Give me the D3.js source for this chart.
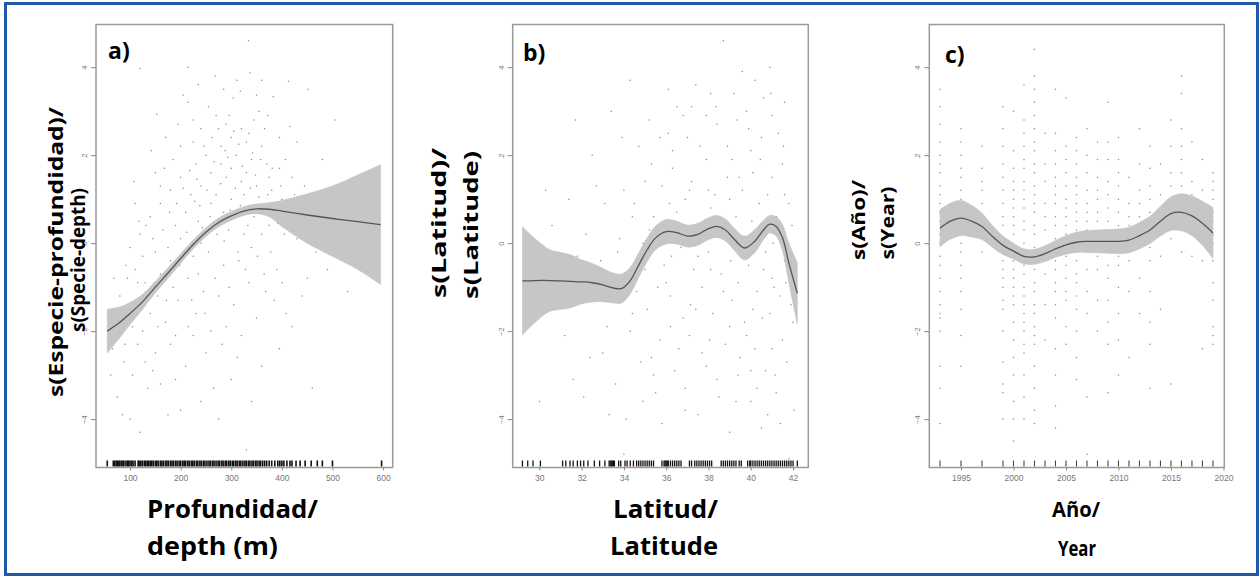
<!DOCTYPE html>
<html><head><meta charset="utf-8">
<script src="https://cdn.jsdelivr.net/npm/d3@7"></script>
<style>
body{margin:0;background:#fff;}
svg{display:block;}
.tick text{font-family:"Liberation Sans",Arial,sans-serif;fill:#777;}
.tick line{stroke:#888;}
</style></head>
<body><svg id="c" width="1260" height="577"></svg>
<script>
// ---------- Panel a: depth ----------
const depthA = [55,80,100,125,150,175,200,225,250,275,300,325,350,375,400,450,500,550,595];
const fitA   = [-2.0,-1.8,-1.6,-1.33,-1.0,-0.68,-0.35,-0.03,0.25,0.47,0.62,0.73,0.78,0.77,0.73,0.64,0.56,0.49,0.42];
const lowA   = [-2.5,-2.15,-1.85,-1.5,-1.13,-0.8,-0.46,-0.13,0.15,0.37,0.52,0.63,0.67,0.6,0.38,0.0,-0.3,-0.6,-0.94];
const upA    = [-1.5,-1.45,-1.35,-1.16,-0.87,-0.56,-0.24,0.07,0.35,0.57,0.72,0.83,0.89,0.92,0.97,1.12,1.3,1.55,1.78];
const ticksA = [100,200,300,400,500,600];
const rugA = [55,67,70,73,75,78,80,83,86,88,92,95,97,100,103,106,110,116,118,121,124,128,131,134,137,140,143,146,150,153,156,160,163,166,170,173,176,180,183,186,190,193,197,200,204,207,210,214,217,221,224,227,231,234,238,241,245,248,252,256,259,263,266,270,274,277,281,284,288,291,295,298,302,305,309,312,316,319,323,327,330,334,337,341,344,348,351,355,358,362,366,370,375,380,386,392,396,400,404,410,416,420,428,436,446,458,470,480,500,597];
const ptsA = [[334,4.6],[215,4.0],[120,3.97],[337,3.87],[311,3.7],[360,3.7],[413,3.68],[452,3.5],[205,3.37],[350,3.37],[383,3.33],[304,3.3],[153,2.93],[505,2.8],[416,2.65],[270,2.9],[290,2.7],[320,2.6],[345,2.8],[300,2.4],[330,2.3],[360,2.2],[280,2.2],[250,2.0],[310,2.0],[340,1.9],[370,1.8],[395,1.7],[420,1.5],[230,1.8],[260,1.6],[290,1.5],[320,1.4],[350,1.3],[380,1.2],[200,1.5],[180,1.2],[220,1.1],[240,1.3],[270,1.1],[300,1.0],[330,1.6],[355,1.05],[400,1.0],[440,0.9],[470,0.6],[160,0.9],[140,0.6],[190,0.4],[210,0.7],[235,0.5],[265,0.4],[295,0.3],[325,0.2],[345,0.6],[375,0.4],[405,0.2],[430,0.1],[120,0.2],[100,-0.1],[150,-0.2],[175,-0.1],[200,0.1],[225,-0.3],[255,-0.2],[285,-0.5],[315,-0.4],[340,-0.1],[365,-0.7],[390,-0.6],[110,-0.6],[130,-0.9],[160,-0.7],[185,-1.0],[215,-0.8],[245,-1.1],[275,-1.2],[305,-1.4],[335,-0.9],[80,-1.2],[95,-1.5],[115,-1.4],[140,-1.6],[170,-1.8],[195,-1.3],[230,-1.6],[260,-2.0],[290,-1.9],[320,-2.1],[350,-1.7],[70,-1.9],[90,-2.3],[125,-2.0],[150,-2.5],[180,-2.3],[210,-2.8],[250,-2.5],[300,-3.1],[360,-2.8],[420,-1.9],[460,-3.3],[105,-3.0],[135,-3.3],[200,-3.8],[85,-3.9],[120,-4.3],[160,-3.2],[240,-3.6],[275,-4.0],[75,-3.5],[100,-4.0],[330,-4.7],[130,-2.7],[180,-0.4],[260,0.9],[310,0.6],[280,1.8],[200,2.2],[150,1.6],[110,0.9],[170,2.4],[240,2.6],[360,0.2],[385,-1.3],[450,-0.8],[520,-0.3],[395,2.4],[355,3.0],[255,3.1],[285,3.5],[225,2.8],[300,1.7],[325,1.1],[375,1.5],[410,0.7],[285,0.7],[240,0.0],[215,-1.9],[190,-2.1],[155,-1.2],[125,-0.3],[95,-0.8],
 [262,2.4],[275,2.6],[288,2.1],[296,2.9],[305,2.55],[315,2.25],[322,1.75],[335,2.5],[342,2.05],[348,1.55],[358,1.9],[366,2.6],[372,1.1],[381,1.7],[388,0.8],[398,1.3],[407,1.9],[415,0.4],[425,1.1],[435,0.5],[445,1.3],[456,0.3],[468,-0.2],[480,0.8],[490,-0.6],[512,0.2],[530,-1.1],[548,-0.4],[225,2.3],[232,1.45],[238,0.85],[246,2.2],[252,1.2],[258,0.6],[266,1.85],[272,0.2],[279,1.35],[286,0.05],[293,1.95],[298,0.75],[308,1.25],[313,-0.2],[318,0.85],[328,-0.6],[333,0.4],[338,1.25],[352,-0.3],[362,0.85],[368,-1.1],[378,-0.2],[392,0.45],[400,-0.9],[408,-1.6],[185,1.9],[192,0.9],[198,-0.5],[205,1.25],[212,0.25],[218,1.65],[222,-1.3],[228,0.95],[235,-0.7],[243,0.35],[248,-1.6],[268,-0.8],[282,-2.3],[296,-1.0],[312,-2.6],[160,1.3],[165,0.3],[172,-1.3],[178,0.7],[145,0.1],[148,-0.9],[155,-1.9],[132,0.4],[137,-1.1],[115,-0.9],[118,0.5],[105,-1.9],[92,-0.5],[88,-2.7],[78,-1.6],[65,-2.4],[68,-0.8],[108,1.4],[142,2.1],[168,1.7],[195,2.7],[215,3.2],[235,3.6],[268,3.8],[318,3.45],[372,2.9],[430,2.3],[480,1.9],[190,-3.1],[225,-2.1],[265,-3.3],[340,-3.6],[395,-2.4],[440,-1.2],[145,-2.9],[115,-2.3],[175,-3.9],[62,-3.0]];

// ---------- Panel b: latitude ----------
const latB = [29.2,29.8,30.5,31.0,31.5,32.0,32.5,33.0,33.5,33.9,34.3,34.7,35.1,35.5,36.0,36.5,37.0,37.5,38.0,38.4,38.8,39.2,39.7,40.2,40.6,40.9,41.2,41.5,41.8,42.2];
const fitB = [-0.86,-0.85,-0.85,-0.86,-0.87,-0.88,-0.9,-0.95,-1.02,-1.03,-0.85,-0.5,-0.15,0.12,0.26,0.24,0.16,0.2,0.33,0.38,0.3,0.1,-0.11,0.05,0.3,0.43,0.38,0.12,-0.45,-1.14];
const lowB = [-2.09,-1.8,-1.55,-1.51,-1.47,-1.38,-1.34,-1.33,-1.36,-1.36,-1.15,-0.78,-0.42,-0.15,-0.02,-0.02,-0.09,-0.05,0.08,0.13,0.05,-0.15,-0.38,-0.21,0.08,0.23,0.16,-0.18,-0.9,-1.84];
const upB  = [0.37,0.1,-0.15,-0.21,-0.27,-0.38,-0.46,-0.57,-0.68,-0.7,-0.55,-0.22,0.12,0.39,0.54,0.5,0.41,0.45,0.58,0.63,0.55,0.35,0.16,0.31,0.52,0.63,0.6,0.42,0.0,-0.44];
const ticksB = [30,32,34,36,38,40,42];
const rugB = [29.2,29.45,29.7,30.05,31.1,31.25,31.45,31.6,31.8,31.95,32.1,32.3,32.6,32.85,33.1,33.3,33.35,33.4,33.45,33.5,33.55,33.75,33.85,34.05,34.15,34.3,34.45,34.6,34.7,34.8,34.9,35.0,35.1,35.2,35.3,35.4,35.8,35.9,35.95,36.0,36.05,36.1,36.2,36.3,36.4,36.5,36.6,36.7,37.1,37.2,37.35,37.45,37.55,37.65,37.75,37.85,37.95,38.05,38.15,38.6,38.7,38.8,38.9,39.0,39.1,39.2,39.3,39.45,39.55,39.85,39.95,40.0,40.1,40.2,40.3,40.4,40.5,40.6,40.7,40.8,40.9,41.0,41.1,41.2,41.3,41.4,41.5,41.6,41.7,41.8,41.9,42.0,42.2];
const ptsB = [[38.7,4.6],[40.9,4.0],[39.6,3.9],[37.4,3.6],[34.3,3.7],[36.1,3.5],[38.1,3.4],[40.6,3.3],[31.7,2.8],[33.4,3.0],[35.2,2.8],[36.8,2.9],[38.4,2.7],[39.9,2.6],[41.3,2.5],[40.5,2.4],[37.6,2.2],[36.3,2.1],[34.7,2.2],[32.5,2.0],[39.1,1.9],[41.5,1.8],[40.1,1.6],[38.9,1.5],[37.2,1.4],[35.8,1.3],[34.0,1.2],[33.1,0.9],[31.4,1.0],[36.9,1.0],[38.3,1.1],[39.6,1.2],[40.8,1.1],[41.8,0.9],[35.4,0.6],[36.5,0.7],[37.8,0.5],[39.3,0.6],[40.4,0.9],[41.2,0.6],[30.6,0.4],[32.2,0.2],[33.8,0.1],[34.9,0.0],[36.7,-0.1],[38.0,-0.2],[39.5,-0.3],[40.7,-0.2],[41.6,-0.4],[35.9,-0.5],[37.3,-0.6],[38.6,-0.7],[39.9,-0.5],[41.0,-0.8],[33.5,-0.9],[34.6,-1.1],[36.2,-1.2],[37.7,-1.0],[39.1,-1.3],[40.3,-1.1],[41.4,-1.2],[31.9,-1.3],[35.1,-1.5],[36.8,-1.7],[38.2,-1.6],[39.7,-1.8],[40.9,-1.6],[41.9,-1.4],[33.2,-1.9],[34.3,-2.0],[35.7,-2.2],[37.1,-2.1],[38.8,-2.3],[40.2,-2.4],[41.5,-2.2],[32.4,-2.6],[34.8,-2.7],[36.4,-2.9],[37.9,-2.8],[39.4,-3.0],[40.7,-2.9],[33.6,-3.2],[35.5,-3.4],[36.9,-3.3],[38.5,-3.5],[40.0,-3.6],[41.2,-3.4],[30.0,-3.6],[31.6,-3.1],[34.1,-4.0],[35.8,-4.1],[37.5,-3.9],[39.0,-4.3],[40.5,-4.2],[34.0,-4.8],[41.8,-4.9],[31.2,-2.1],[30.8,-1.0],[32.9,-0.4],[34.4,0.6],[35.3,1.8],[37.9,2.9],[39.8,3.0],[41.0,2.9],[38.1,0.8],[39.0,0.2],[40.2,0.3],[41.3,0.2],[36.0,-0.9],[37.5,-0.3],[38.7,-1.1],[40.6,-0.6],[36.6,0.3],[35.0,-0.6],
 [36.1,2.5],[36.3,1.7],[36.15,0.9],[36.25,-0.3],[36.2,-1.9],[37.0,2.4],[37.1,1.2],[37.05,0.2],[37.15,-1.4],[37.9,1.9],[38.0,1.2],[38.1,-0.6],[38.05,-2.2],[38.35,3.1],[38.3,0.4],[38.9,2.2],[39.0,1.0],[39.05,-0.4],[39.0,-1.9],[39.35,2.8],[39.45,1.5],[39.4,-0.9],[39.5,-2.6],[40.0,2.1],[40.05,0.5],[40.1,-1.5],[40.0,-2.9],[40.45,1.9],[40.5,0.1],[40.55,-1.7],[40.95,3.4],[41.0,1.5],[41.05,0.0],[41.1,-1.0],[41.0,-2.4],[41.15,-3.0],[41.55,2.2],[41.6,1.1],[41.65,-0.9],[41.7,-2.7],[41.95,0.4],[42.0,-1.8],[42.05,-3.8],[35.0,1.4],[35.2,0.3],[35.3,-2.6],[34.5,0.9],[34.6,-0.4],[34.4,-1.6],[33.9,2.4],[33.7,-0.2],[33.4,-1.3],[33.0,-2.5],[32.7,1.3],[32.3,-0.9],[31.8,-0.3],[31.3,-0.6],[30.3,1.2],[35.6,-1.0],[35.7,2.4],[36.6,-2.4],[37.4,-1.5],[37.7,-2.5],[38.4,-3.1],[39.3,-3.6],[39.8,-2.1],[40.3,-3.3],[40.8,-3.9],[41.4,-4.1],[36.9,-3.8],[35.4,-3.0],[34.9,-3.6],[33.3,-3.9],[32.1,-3.5],[37.2,3.1],[39.2,3.4],[40.2,3.7],[41.6,3.2],[36.5,3.1]];

// ---------- Panel c: year ----------
const yearC = [1993,1994,1995,1996,1997,1998,1999,2000,2001,2002,2003,2004,2005,2006,2007,2008,2009,2010,2011,2012,2013,2014,2015,2016,2017,2018,2019];
const fitC = [0.34,0.5,0.57,0.5,0.38,0.15,-0.05,-0.18,-0.3,-0.31,-0.24,-0.13,-0.04,0.02,0.04,0.04,0.04,0.04,0.07,0.17,0.3,0.5,0.67,0.7,0.62,0.45,0.23];
const lowC = [-0.08,0.09,0.17,0.14,0.08,-0.10,-0.26,-0.36,-0.47,-0.48,-0.42,-0.32,-0.25,-0.21,-0.21,-0.22,-0.23,-0.24,-0.22,-0.13,-0.01,0.16,0.29,0.28,0.17,-0.05,-0.35];
const upC  = [0.76,0.91,0.97,0.86,0.68,0.40,0.16,0.0,-0.13,-0.14,-0.06,0.06,0.17,0.25,0.29,0.30,0.31,0.32,0.36,0.47,0.61,0.84,1.05,1.12,1.07,0.95,0.81];
const ticksC = [1995,2000,2005,2010,2015,2020];
const rugC = [1993,1995,1997,1999,2000,2001,2002,2003,2004,2005,2006,2007,2008,2009,2010,2011,2012,2013,2014,2015,2016,2017,2018,2019];
const colYears = [1993,1995,1997,1999,2000,2001,2002,2003,2004,2005,2006,2007,2008,2009,2010,2011,2012,2013,2014,2015,2016,2017,2018,2019];
const colVals = [
 [3.5,3.1,2.7,2.3,2.0,1.8,1.6,1.3,1.1,0.9,0.7,0.5,0.2,0.0,-0.3,-0.5,-0.8,-1.1,-1.4,-1.6,-1.7,-2.0,-2.8,-3.3,-4.1],
 [2.6,2.3,2.0,1.7,1.5,1.2,1.0,0.7,0.5,0.3,0.0,-0.2,-0.5,-0.8,-1.1,-1.5,-2.1,-2.8],
 [2.2,1.7,1.4,1.2,0.9,0.6,0.2,-0.2],
 [3.1,2.6,2.2,1.8,1.5,1.2,0.9,0.6,0.4,0.1,-0.1,-0.4,-0.6,-0.8,-1.0,-1.3,-1.5,-2.0,-2.7,-3.2,-3.4,-4.0],
 [3.0,2.1,1.7,1.4,1.2,1.0,0.8,0.6,0.4,0.2,-0.2,-0.4,-0.6,-0.8,-1.0,-1.2,-1.4,-1.8,-2.2,-2.6,-3.0,-3.6,-4.0,-4.5],
 [3.6,2.8,2.5,2.2,1.9,1.7,1.4,1.2,1.0,0.8,0.5,0.3,0.0,-0.2,-0.5,-0.7,-1.0,-1.2,-1.4,-1.6,-1.8,-2.0,-2.3,-2.5,-3.0,-3.5,-4.0],
 [4.4,3.8,3.5,3.2,2.9,2.6,2.3,2.1,1.8,1.6,1.3,1.1,0.9,0.7,0.4,0.2,-0.1,-0.4,-0.6,-0.9,-1.1,-1.4,-1.6,-1.9,-2.1,-2.3,-2.8,-3.3,-3.8,-4.1],
 [2.5,1.8,1.4,0.9,0.6,0.3,-0.2,-0.7,-1.4,-2.2],
 [3.5,2.5,2.1,1.8,1.5,1.3,1.1,0.9,0.6,0.4,0.1,-0.1,-0.4,-0.6,-0.9,-1.1,-1.4,-1.7,-2.4,-3.0,-3.7,-4.2],
 [3.3,2.2,1.9,1.6,1.3,1.0,0.8,0.6,0.4,0.2,-0.1,-0.3,-0.5,-0.8,-1.1,-1.3,-1.9,-2.3],
 [2.4,2.1,1.8,1.5,1.3,1.1,0.9,0.7,0.5,0.3,0.1,-0.2,-0.4,-0.7,-0.9,-1.2,-1.5,-2.0,-2.6,-3.1],
 [2.6,2.0,1.6,1.2,0.9,0.7,0.5,0.3,0.0,-0.2,-0.6,-1.1,-1.6,-3.5,-4.8],
 [2.3,1.9,1.5,1.2,1.0,0.7,0.5,0.2,0.0,-0.3,-0.6,-1.3,-2.0],
 [3.2,2.3,1.9,1.4,1.1,0.8,0.5,0.3,0.0,-0.2,-0.5,-0.8,-1.3,-1.8,-2.3,-3.4],
 [2.4,1.9,1.6,1.3,1.0,0.7,0.4,0.2,0.0,-0.3,-0.5,-1.0,-1.6,-2.2,-3.0],
 [1.5,0.9,0.6,0.4,0.1,-0.4,-1.1,-2.6],
 [2.6,1.8,1.2,0.9,0.6,0.3,0.1,-0.8,-1.6],
 [2.2,1.7,1.3,1.0,0.7,0.4,0.2,-0.1,-0.4,-1.1,-1.8,-2.3,-3.3],
 [1.8,1.1,0.8,0.6,0.2,-0.3,-1.5],
 [2.8,2.2,1.6,1.3,1.0,0.8,0.6,0.1,-3.2],
 [3.8,3.4,2.6,2.2,1.9,1.6,1.3,1.0,0.7,0.5,0.3,-0.2],
 [2.3,1.4,1.1,0.8,0.4,-0.3],
 [1.9,1.2,0.7,0.2,-0.4,-2.4],
 [1.6,1.4,1.2,1.0,0.7,0.5,0.2,0.0,-0.4,-0.9,-1.3,-1.9,-2.1,-2.3]
];
const yTicks = [-4,-2,0,2,4];

const svg = d3.select("#c");
svg.append("rect").attr("x",5.5).attr("y",3.5).attr("width",1252).attr("height",571)
  .attr("fill","none").attr("stroke","#1f5aa6").attr("stroke-width",3);

const FONT = "'Open Sans','Noto Sans',sans-serif";

function panel(cfg){
  const x = d3.scaleLinear().domain(cfg.xd).range([cfg.x0,cfg.x1]);
  const y = d3.scaleLinear().domain([-5.1,4.97]).range([cfg.y1,cfg.y0]);
  const g = svg.append("g");
  g.selectAll("circle.p").data(cfg.pts).join("circle")
    .attr("cx",d=>x(d[0])).attr("cy",d=>y(d[1])).attr("r",0.75).attr("fill","#8c8c8c");
  const idx = d3.range(cfg.xs.length);
  const area = d3.area().x(i=>x(cfg.xs[i])).y0(i=>y(cfg.lo[i])).y1(i=>y(cfg.up[i])).curve(d3.curveCatmullRom.alpha(0.5));
  g.append("path").attr("d",area(idx)).attr("fill","#c6c6c6").attr("stroke","#bdbdbd").attr("stroke-width",0.5);
  const line = d3.line().x(i=>x(cfg.xs[i])).y(i=>y(cfg.fit[i])).curve(d3.curveCatmullRom.alpha(0.5));
  g.append("path").attr("d",line(idx)).attr("fill","none").attr("stroke","#555").attr("stroke-width",1.3);
  g.selectAll("line.r").data(cfg.rug).join("line")
    .attr("x1",d=>x(d)).attr("x2",d=>x(d)).attr("y1",cfg.y1-1).attr("y2",cfg.y1-7)
    .attr("stroke",cfg.rugColor||"#111").attr("stroke-width",cfg.rugW||1.1);
  g.append("rect").attr("x",cfg.x0).attr("y",cfg.y0).attr("width",cfg.x1-cfg.x0).attr("height",cfg.y1-cfg.y0)
    .attr("fill","none").attr("stroke","#9a9a9a").attr("stroke-width",1.5);
  const ax = g.append("g").attr("transform",`translate(0,${cfg.y1})`)
    .call(d3.axisBottom(x).tickValues(cfg.ticks).tickSize(3).tickFormat(d3.format("d")));
  ax.select(".domain").remove();
  ax.selectAll("text").attr("font-size",8.5).attr("y",7);
  const ay = g.append("g").attr("transform",`translate(${cfg.x0},0)`)
    .call(d3.axisLeft(y).tickValues(yTicks).tickSize(5).tickFormat(d3.format("d")));
  ay.select(".domain").remove();
  ay.selectAll("text").attr("font-size",7.5).attr("transform","rotate(-90)")
    .attr("x",0).attr("y",-9).attr("dy",0).attr("text-anchor","middle");
  g.append("text").attr("x",cfg.letterX).attr("y",cfg.letterY).text(cfg.letter)
    .attr("font-family",FONT).attr("font-weight",700).attr("font-size",23).attr("fill","#000");
  cfg.ytitle.forEach(t=>{
    g.append("text").attr("transform",`translate(${t.bx},${t.cy}) rotate(-90)`)
      .attr("text-anchor","middle").attr("font-family",FONT).attr("font-weight",700)
      .attr("font-size",t.fs).attr("textLength",t.len).attr("lengthAdjust","spacingAndGlyphs").text(t.s);
  });
  cfg.xtitle.forEach(t=>{
    g.append("text").attr("x",t.x).attr("y",t.by).attr("text-anchor",t.anchor||"start")
      .attr("font-family",FONT).attr("font-weight",700).attr("font-size",t.fs)
      .attr("textLength",t.len).attr("lengthAdjust","spacingAndGlyphs").text(t.s);
  });
}

panel({xd:[32.8,619], x0:96, x1:392.7, y0:24.5, y1:467.5,
  xs:depthA, fit:fitA, lo:lowA, up:upA, ticks:ticksA, rug:rugA, pts:ptsA, rugW:1.6,
  letter:"a)", letterX:108, letterY:59,
  ytitle:[{s:"s(Especie-profundidad)/",bx:63,cy:252,fs:19,len:290},{s:"s(Specie-depth)",bx:85,cy:260,fs:20,len:144}],
  xtitle:[{s:"Profundidad/",x:147,by:518,fs:25,len:171},{s:"depth (m)",x:147,by:555,fs:25,len:131}]
});
panel({xd:[28.74,42.72], x0:512.7, x1:808.3, y0:24.5, y1:467.5,
  xs:latB, fit:fitB, lo:lowB, up:upB, ticks:ticksB, rug:rugB, pts:ptsB, rugW:1.3,
  letter:"b)", letterX:523, letterY:61,
  ytitle:[{s:"s(Latitud)/",bx:446,cy:223,fs:20,len:150},{s:"s(Latitude)",bx:478,cy:225,fs:20,len:148}],
  xtitle:[{s:"Latitud/",x:613,by:518,fs:25,len:105},{s:"Latitude",x:610,by:555,fs:25,len:108}]
});
const ptsC = [];
colYears.forEach((yr,i)=>colVals[i].forEach(v=>ptsC.push([yr,v])));
panel({xd:[1991.98,2020.08], x0:929.3, x1:1224.3, y0:24.5, y1:467.5,
  xs:yearC, fit:fitC, lo:lowC, up:upC, ticks:ticksC, rug:rugC, pts:ptsC, rugColor:"#444",
  letter:"c)", letterX:945, letterY:63,
  ytitle:[{s:"s(Año)/",bx:865,cy:220,fs:18,len:80},{s:"s(Year)",bx:894,cy:223,fs:18,len:73}],
  xtitle:[{s:"Año/",x:1052,by:517,fs:21,len:48},{s:"Year",x:1058,by:556,fs:21,len:38}]
});
</script></body></html>
